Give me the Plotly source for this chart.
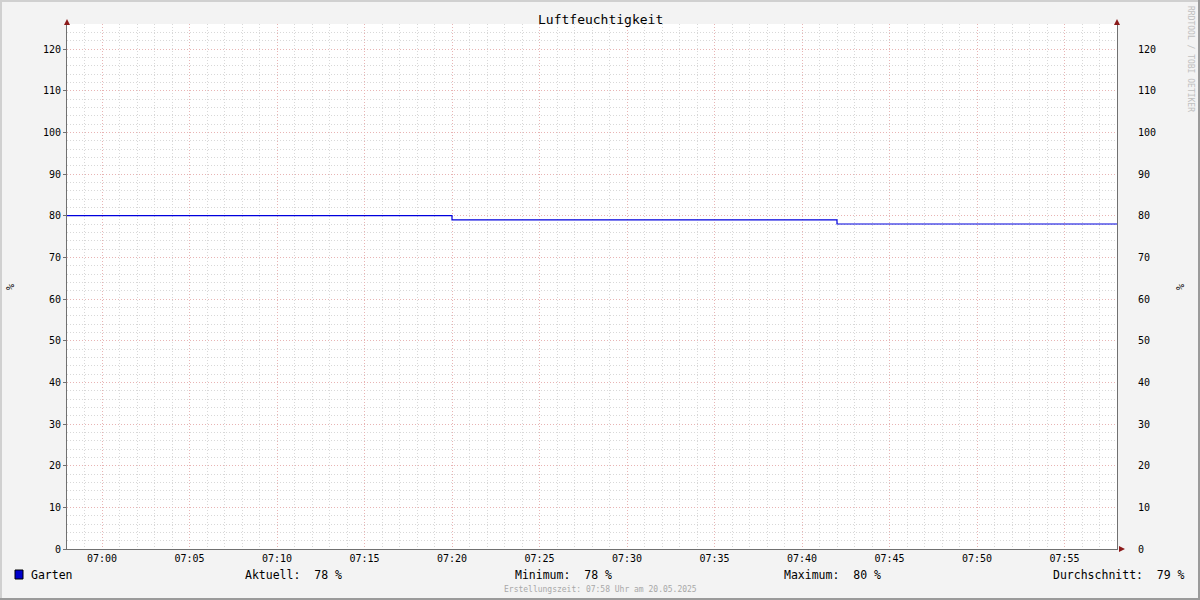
import plotly.graph_objects as go

# Data
times = ["2025-05-20 06:58:00", "2025-05-20 07:20:00", "2025-05-20 07:42:00", "2025-05-20 07:58:00"]
humidity = [80, 79, 78, 78]
series_name = "Garten"
stats_labels = ["Aktuell:", "Minimum:", "Maximum:", "Durchschnitt:"]
stats_values = [78, 78, 80, 79]
y_ticks = list(range(0, 121, 10))
title = "Luftfeuchtigkeit"
footer = "Erstellungszeit: 07:58 Uhr am 20.05.2025"
watermark = "RRDTOOL / TOBI OETIKER"

W, H = 1200, 600
L, R, T, B = 67, 83, 24, 51
PW, PH = W - L - R, H - T - B
MONO = "DejaVu Sans Mono"

def px(x):
    return (x - L) / PW

def py(y):
    return (H - B - y) / PH

fig = go.Figure()
fig.add_trace(go.Scatter(x=times, y=humidity, mode="lines", line=dict(color="#0000DD", width=1.2, shape="hv"),
                         showlegend=False, hoverinfo="skip"))
fig.add_trace(go.Scatter(x=times[:1], y=humidity[:1], yaxis="y2", mode="markers", marker=dict(opacity=0),
                         showlegend=False, hoverinfo="skip"))

major_grid = "#E8B4B4"
minor_grid = "#D8D8D8"
axis_col = "#707070"

fig.update_layout(
    width=W, height=H,
    margin=dict(l=L, r=R, t=T, b=B),
    paper_bgcolor="#F3F3F3",
    plot_bgcolor="#FFFFFF",
    font=dict(family=MONO, size=10, color="#000000"),
    xaxis=dict(
        type="date",
        range=[times[0], times[-1]],
        tick0="2025-05-20 07:00:00", dtick=300000, tickformat="%H:%M",
        showgrid=True, gridcolor=major_grid, griddash="1px,2px", gridwidth=1,
        minor=dict(dtick=60000, tick0="2025-05-20 07:00:00", showgrid=True, gridcolor=minor_grid, griddash="1px,2px", gridwidth=1),
        showline=True, linecolor=axis_col, linewidth=1,
        ticks="", zeroline=False,
        tickfont=dict(family=MONO, size=10),
    ),
    yaxis=dict(
        range=[0, 126], tickvals=y_ticks,
        showgrid=True, gridcolor=major_grid, griddash="1px,2px", gridwidth=1,
        minor=dict(dtick=2, showgrid=True, gridcolor=minor_grid, griddash="1px,2px", gridwidth=1),
        showline=True, linecolor=axis_col, linewidth=1,
        ticks="outside", ticklen=3, tickcolor=axis_col, zeroline=False,
        tickfont=dict(family=MONO, size=10),
    ),
    yaxis2=dict(
        range=[0, 126], tickvals=y_ticks, overlaying="y", side="right",
        showgrid=False, showline=True, linecolor=axis_col, linewidth=1,
        ticks="", ticklabelstandoff=18, zeroline=False,
        tickfont=dict(family=MONO, size=10),
    ),
)

ann = []
ann.append(dict(text=title, x=px(600), xref="paper", y=py(19), yref="paper", showarrow=False,
                xanchor="center", yanchor="middle", font=dict(family=MONO, size=13)))
# unit labels
ann.append(dict(text="%", x=px(10), y=py(287), xref="paper", yref="paper", showarrow=False, textangle=-90,
                xanchor="center", yanchor="middle", font=dict(family=MONO, size=10)))
ann.append(dict(text="%", x=px(1180), y=py(287), xref="paper", yref="paper", showarrow=False, textangle=-90,
                xanchor="center", yanchor="middle", font=dict(family=MONO, size=10)))
# watermark
ann.append(dict(text=watermark, x=px(1190), y=py(4), xref="paper", yref="paper", showarrow=False, textangle=90,
                xanchor="center", yanchor="top", font=dict(family=MONO, size=8, color="#C0C0C0")))
# legend
ann.append(dict(text=series_name, x=px(29), y=py(575), xref="paper", yref="paper", showarrow=False,
                xanchor="left", yanchor="middle", font=dict(family=MONO, size=11.5)))
stat_x = [243, 513, 782, 1051]
for sx, lab, val in zip(stat_x, stats_labels, stats_values):
    ann.append(dict(text=f"{lab}  {val} %", x=px(sx), y=py(575), xref="paper", yref="paper", showarrow=False,
                    xanchor="left", yanchor="middle", font=dict(family=MONO, size=11.5)))
ann.append(dict(text=footer, x=px(600), y=py(589), xref="paper", yref="paper", showarrow=False,
                xanchor="center", yanchor="middle", font=dict(family=MONO, size=8, color="#A8A8A8")))
fig.update_layout(annotations=ann)

shapes = []
# legend color box
shapes.append(dict(type="rect", xref="paper", yref="paper", x0=px(15), x1=px(23), y0=py(579), y1=py(570),
                   fillcolor="#0000CC", line=dict(color="#000000", width=1)))
# outer border
shapes.append(dict(type="line", xref="paper", yref="paper", x0=px(0), x1=px(1200), y0=py(1), y1=py(1),
                   line=dict(color="#D0D0D0", width=2)))
shapes.append(dict(type="line", xref="paper", yref="paper", x0=px(1), x1=px(1), y0=py(0), y1=py(600),
                   line=dict(color="#D0D0D0", width=2)))
shapes.append(dict(type="line", xref="paper", yref="paper", x0=px(0), x1=px(1200), y0=py(599), y1=py(599),
                   line=dict(color="#9A9A9A", width=2)))
shapes.append(dict(type="line", xref="paper", yref="paper", x0=px(1199), x1=px(1199), y0=py(0), y1=py(600),
                   line=dict(color="#9A9A9A", width=2)))
# arrows
arrow_col = "#8B1A1A"
def tri(points):
    return "M " + " L ".join(f"{px(a)},{py(b)}" for a, b in points) + " Z"
shapes.append(dict(type="path", xref="paper", yref="paper", path=tri([(64, 25), (70, 25), (67, 19)]),
                   fillcolor=arrow_col, line=dict(color=arrow_col, width=0)))
shapes.append(dict(type="path", xref="paper", yref="paper", path=tri([(1114, 25), (1120, 25), (1117, 19)]),
                   fillcolor=arrow_col, line=dict(color=arrow_col, width=0)))
shapes.append(dict(type="path", xref="paper", yref="paper", path=tri([(1119, 546), (1119, 552), (1125, 549)]),
                   fillcolor=arrow_col, line=dict(color=arrow_col, width=0)))
fig.update_layout(shapes=shapes)

fig.write_html("out.html", config={"displayModeBar": False},
               post_script="document.body.style.margin='0';document.body.style.overflow='hidden';")
